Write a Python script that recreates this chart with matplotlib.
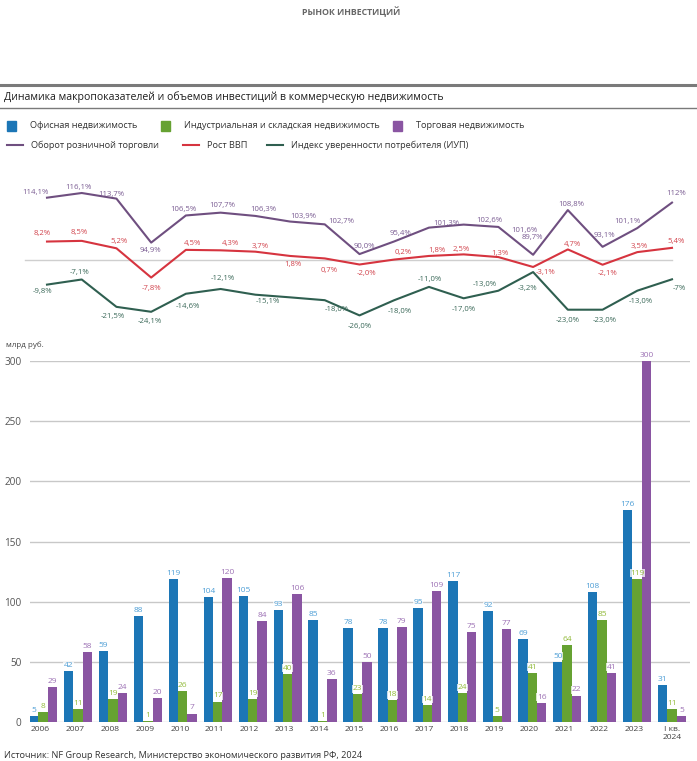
import matplotlib
matplotlib.use('Agg')
import matplotlib.pyplot as plt
import numpy as np
from matplotlib.patches import Rectangle
from matplotlib.lines import Line2D
from matplotlib.transforms import ScaledTranslation

plt.rcParams['font.family'] = ['Open Sans', 'DejaVu Sans']

# ---------------- data ----------------
years = ['2006', '2007', '2008', '2009', '2010', '2011', '2012', '2013', '2014', '2015',
         '2016', '2017', '2018', '2019', '2020', '2021', '2022', '2023', 'I кв.\n2024']
office = [5, 42, 59, 88, 119, 104, 105, 93, 85, 78, 78, 95, 117, 92, 69, 50, 108, 176, 31]
industrial = [8, 11, 19, 1, 26, 17, 19, 40, 1, 23, 18, 14, 24, 5, 41, 64, 85, 119, 11]
retail = [29, 58, 24, 20, 7, 120, 84, 106, 36, 50, 79, 109, 75, 77, 16, 22, 41, 300, 5]

retail_turnover = [114.1, 116.1, 113.7, 94.9, 106.5, 107.7, 106.3, 103.9, 102.7, 90.0,
                   95.4, 101.3, 102.6, 101.6, 89.7, 108.8, 93.1, 101.1, 112]
gdp_growth = [8.2, 8.5, 5.2, -7.8, 4.5, 4.3, 3.7, 1.8, 0.7, -2.0,
              0.2, 1.8, 2.5, 1.3, -3.1, 4.7, -2.1, 3.5, 5.4]
consumer_conf = [-9.8, -7.1, -21.5, -24.1, -14.6, -12.1, -15.1, -16.5, -18.0, -26.0,
                 -18.0, -11.0, -17.0, -13.0, -3.2, -23.0, -23.0, -13.0, -7]

retail_labels = ['114,1%', '116,1%', '113,7%', '94,9%', '106,5%', '107,7%', '106,3%', '103,9%',
                 '102,7%', '90,0%', '95,4%', '101,3%', '102,6%', '101,6%', '89,7%', '108,8%',
                 '93,1%', '101,1%', '112%']
gdp_labels = ['8,2%', '8,5%', '5,2%', '-7,8%', '4,5%', '4,3%', '3,7%', '1,8%', '0,7%', '-2,0%',
              '0,2%', '1,8%', '2,5%', '1,3%', '-3,1%', '4,7%', '-2,1%', '3,5%', '5,4%']
conf_labels = ['-9,8%', '-7,1%', '-21,5%', '-24,1%', '-14,6%', '-12,1%', '-15,1%', '', '-18,0%',
               '-26,0%', '-18,0%', '-11,0%', '-17,0%', '-13,0%', '-3,2%', '-23,0%', '-23,0%',
               '-13,0%', '-7%']

title = 'Динамика макропоказателей и объемов инвестиций в коммерческую недвижимость'
source = 'Источник: NF Group Research, Министерство экономического развития РФ, 2024'

# ---------------- style ----------------
C_OFF, C_IND, C_RET = '#1c76b6', '#66a232', '#8a55a2'
L_OFF, L_IND, L_RET = '#4f9fd6', '#93bb3c', '#9d72b5'
C_TURN, C_GDP, C_CONF = '#6f4f80', '#d6343f', '#2f5f50'

# label offsets in pixels (dx, dy) ; dy positive = up
off_turn = [(-12, 5), (-3, 6), (-5, 4), (-1, -8), (-2, 6), (2, 7), (8, 6), (13, 5), (17, 3),
            (5, 8), (6, 8), (17, 4), (26, 4), (26, -4), (-1, 17), (3, 6), (2, 11), (-10, 7), (4, 9)]
off_gdp = [(-5, 8), (-2, 8), (3, 7), (0, -11), (7, 6), (10, 7), (5, 5), (3, -9), (4, -12), (7, -9),
           (9, 7), (8, 5), (-2, 5), (2, 4), (12, -6), (5, 5), (5, -9), (2, 6), (4, 6)]
off_conf = [(-5, -7), (-2, 7), (-4, -10), (-1, -10), (2, -13), (2, 10), (13, -7), (0, 0), (12, -9),
            (0, -11), (6, -11), (1, 7), (0, -11), (-14, 6), (-6, -16), (0, -11), (2, -11), (3, -11),
            (7, -9)]

W, H = 697, 761
def fx(px):
    return px / W
def fy(py):
    return 1 - py / H

fig = plt.figure(figsize=(6.97, 7.61), dpi=100)

# header
fig.text(fx(351), fy(12), 'РЫНОК ИНВЕСТИЦИЙ', ha='center', va='center', fontsize=6.3,
         color='#666666', fontweight='bold')
fig.add_artist(Line2D([0, 1], [fy(85), fy(85)], color='#7a7a7a', lw=2.2))
fig.text(fx(4), fy(97), title, ha='left', va='center', fontsize=7.6, color='#1e1e1e')
fig.add_artist(Line2D([0, 1], [fy(107.5), fy(107.5)], color='#7a7a7a', lw=1.0))

# legend row 1 (squares)
leg1 = [(7, 'Офисная недвижимость', C_OFF),
        (161, 'Индустриальная и складская недвижимость', C_IND),
        (393, 'Торговая недвижимость', C_RET)]
for x, t, c in leg1:
    fig.add_artist(Rectangle((fx(x), fy(130.5)), fx(9), 9 / H, color=c, transform=fig.transFigure))
    fig.text(fx(x + 23), fy(126), t, ha='left', va='center', fontsize=6.6, color='#333333')
# legend row 2 (lines)
leg2 = [(7, 'Оборот розничной торговли', C_TURN),
        (183, 'Рост ВВП', C_GDP),
        (267, 'Индекс уверенности потребителя (ИУП)', C_CONF)]
for x, t, c in leg2:
    fig.add_artist(Line2D([fx(x), fx(x + 16)], [fy(145), fy(145)], color=c, lw=1.5))
    fig.text(fx(x + 24), fy(145), t, ha='left', va='center', fontsize=6.6, color='#333333')

xpos = np.arange(len(years))
AX_L, AX_R = 30, 690

# ---------------- lines panel ----------------
LP0, LSTEP = 47, (672 - 47) / 18
LT, LB = 180, 330
axG = fig.add_axes([fx(AX_L), fy(LB), (AX_R - AX_L) / W, (LB - LT) / H])
axC = axG.twinx()
axT = axG.twinx()
for a in (axG, axC, axT):
    a.set_xlim((AX_L - LP0) / LSTEP, (AX_R - LP0) / LSTEP)
    a.axis('off')
axG.set_ylim(-(LB - 260) / 2.25, (260 - LT) / 2.25)
axC.set_ylim(-(LB - 266) / 1.9, (266 - LT) / 1.9)
axT.set_ylim(116.1 - (LB - 193) / 2.34, 116.1 + (193 - LT) / 2.34)

axG.plot([(25 - LP0) / LSTEP, 18.0], [0, 0], color='#cfcfcf', lw=1.0, clip_on=False)

axT.plot(xpos, retail_turnover, color=C_TURN, lw=1.5, clip_on=False)
axG.plot(xpos, gdp_growth, color=C_GDP, lw=1.5, clip_on=False)
axC.plot(xpos, consumer_conf, color=C_CONF, lw=1.5, clip_on=False)

for i in range(len(years)):
    axT.annotate(retail_labels[i], (xpos[i], retail_turnover[i]), xytext=off_turn[i],
                 textcoords='offset pixels', ha='center', va='center', fontsize=5.6,
                 color='#7b5d93', annotation_clip=False)
    axG.annotate(gdp_labels[i], (xpos[i], gdp_growth[i]), xytext=off_gdp[i],
                 textcoords='offset pixels', ha='center', va='center', fontsize=5.6,
                 color='#d2464f', annotation_clip=False)
    if conf_labels[i]:
        axC.annotate(conf_labels[i], (xpos[i], consumer_conf[i]), xytext=off_conf[i],
                     textcoords='offset pixels', ha='center', va='center', fontsize=5.6,
                     color='#3c6a5a', annotation_clip=False)

# ---------------- bars panel ----------------
BP0, BSTEP = 43, (672 - 43) / 18
BT, BB = 361, 722
axB = fig.add_axes([fx(AX_L), fy(BB), (AX_R - AX_L) / W, (BB - BT) / H])
axB.set_xlim((AX_L - BP0) / BSTEP, (AX_R - BP0) / BSTEP)
axB.set_ylim(0, 300)
bw = 9.4 / BSTEP
for k, (vals, c, lc) in enumerate([(office, C_OFF, L_OFF), (industrial, C_IND, L_IND),
                                    (retail, C_RET, L_RET)]):
    bars = axB.bar(xpos + (k - 1) * bw, vals, width=bw, color=c, zorder=3)
    axB.bar_label(bars, labels=[str(v) for v in vals], padding=1.5, fontsize=6, color=lc,
                  zorder=5, clip_on=False,
                  bbox=dict(boxstyle='square,pad=0.05', fc='white', ec='none', alpha=0.75))

axB.set_yticks([0, 50, 100, 150, 200, 250, 300])
axB.yaxis.grid(True, color='#c8c8c8', lw=1.0, zorder=0)
axB.set_axisbelow(True)
for s in axB.spines.values():
    s.set_visible(False)
axB.tick_params(axis='y', length=0, pad=6, labelsize=7.2, labelcolor='#555555')
axB.set_xticks(xpos)
axB.set_xticklabels(years)
axB.tick_params(axis='x', length=0, pad=3, labelsize=6.1, labelcolor='#444444')
shift = ScaledTranslation(-3 / 100, 0, fig.dpi_scale_trans)
for lbl in axB.get_xticklabels()[:-1]:
    lbl.set_transform(lbl.get_transform() + shift)
fig.text(fx(6), fy(345), 'млрд руб.', ha='left', va='center', fontsize=5.8, color='#444444')

fig.text(fx(4), fy(756), source, ha='left', va='center', fontsize=6.6, color='#333333')

fig.savefig('out.png', dpi=100, facecolor='white')
